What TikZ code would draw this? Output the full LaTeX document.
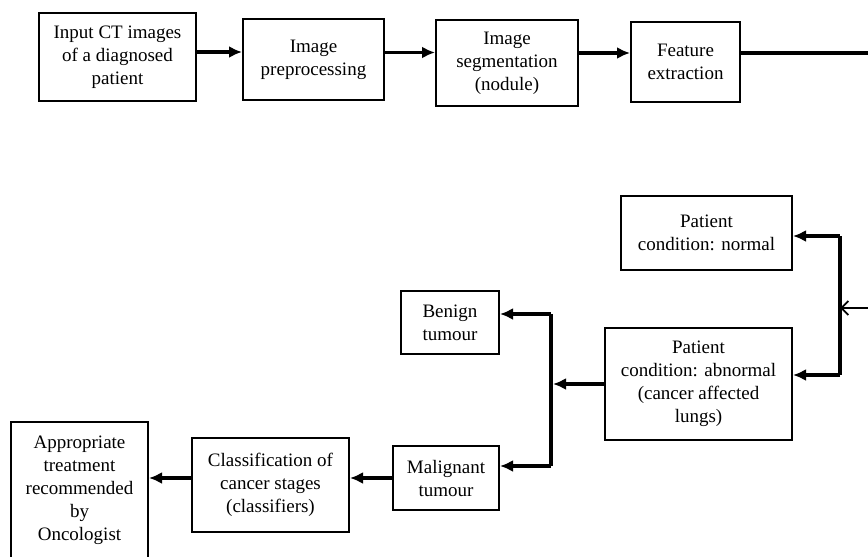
\documentclass[tikz,border=0pt]{standalone}
\usepackage{fontspec}
\setmainfont{Liberation Serif}
\usetikzlibrary{arrows.meta, calc}

\tikzset{
  blk/.style={draw, line width=2pt, align=center, inner sep=2pt,
    font=\fontsize{19}{23}\selectfont},
  flow/.style={line width=3.2pt, -{Latex[length=13pt,width=12pt]}},
  bus/.style={line width=3.2pt},
}

\begin{document}
\begin{tikzpicture}[x=1pt, y=-1pt]
    % frame of the picture
    \useasboundingbox (0,0) rectangle (868,557);
    \clip (0,0) rectangle (868,557);

    % top row
    \node[blk, minimum width=157pt, minimum height=88pt] (input) at (117.5,57)
        {Input CT images\\of a diagnosed\\patient};
    \node[blk, minimum width=141pt, minimum height=81pt] (prep) at (313.5,59.5)
        {Image\\preprocessing};
    \node[blk, minimum width=142pt, minimum height=86pt] (seg) at (507,63)
        {Image\\segmentation\\(nodule)};
    \node[blk, minimum width=109pt, minimum height=80pt] (feat) at (685.5,62)
        {Feature\\extraction};

    % patient condition
    \node[blk, minimum width=171pt, minimum height=74pt] (normal) at (706.5,233)
        {Patient\\condition: normal};
    \node[blk, minimum width=187pt, minimum height=112pt] (abnormal) at (698.5,384)
        {Patient\\condition: abnormal\\(cancer affected\\lungs)};

    % tumour type
    \node[blk, minimum width=98pt, minimum height=63pt] (benign) at (450,322.5)
        {Benign\\tumour};
    \node[blk, minimum width=106pt, minimum height=64pt] (malig) at (446,478)
        {Malignant\\tumour};

    % bottom row
    \node[blk, minimum width=157pt, minimum height=94pt] (class) at (270.5,485)
        {Classification of\\cancer stages\\(classifiers)};
    \node[blk, minimum width=137pt, minimum height=136pt] (approp) at (79.5,490)
        {Appropriate\\treatment\\recommended\\by\\Oncologist};

    % junction points
    \coordinate (fout) at (868,53);
    \coordinate (rin) at (868,308);
    \coordinate (rmid) at (840,308);
    \coordinate (rtop) at (840,236);
    \coordinate (rbot) at (840,375);
    \coordinate (lmid) at (553,384);
    \coordinate (ltop) at (551,314);
    \coordinate (lbot) at (551,466);

    % top row arrows
    \draw[flow] ([yshift=5pt]input.east) -- ([yshift=5pt]input.east -| prep.west);
    \draw[flow] ([yshift=7pt]prep.east) -- ([yshift=7pt]prep.east -| seg.west);
    \draw[flow] ([yshift=10pt]seg.east) -- ([yshift=10pt]seg.east -| feat.west);
    \draw[bus] ([yshift=9pt]feat.east) -- (fout);

    % right split
    \draw[line width=2pt, -{Straight Barb[length=7pt,width=14pt,line width=1.8pt]}] (rin) -- (rmid);
    \draw[bus] (rtop) -- (rbot);
    \draw[flow] (rtop) -- (rtop -| normal.east);
    \draw[flow] (rbot) -- (rbot -| abnormal.east);

    % left split
    \draw[flow] (abnormal.west) -- (abnormal.west -| lmid);
    \draw[bus] (ltop) -- (lbot);
    \draw[flow] (ltop) -- (ltop -| benign.east);
    \draw[flow] (lbot) -- (lbot -| malig.east);

    % bottom row arrows
    \draw[flow] (malig.west) -- (malig.west -| class.east);
    \draw[flow] (malig.west -| class.west) -- (malig.west -| approp.east);
\end{tikzpicture}
\end{document}
